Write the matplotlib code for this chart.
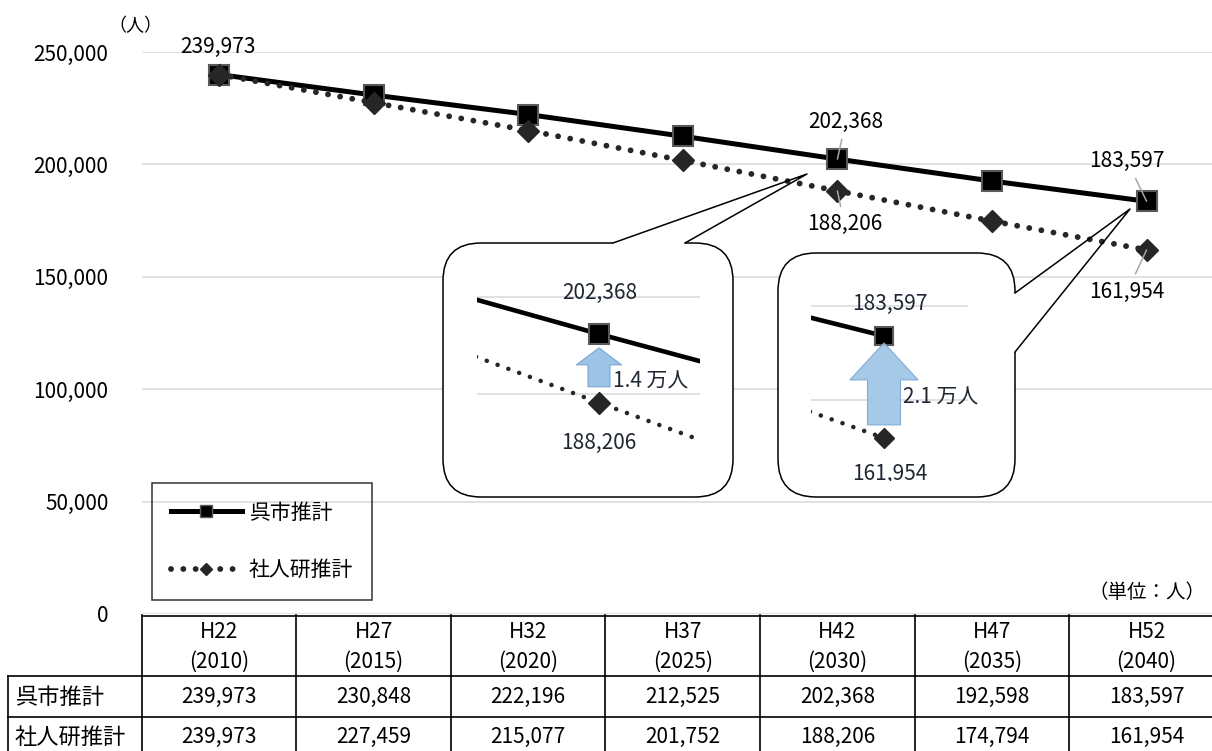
import matplotlib
matplotlib.use('Agg')
import matplotlib.pyplot as plt
from matplotlib.patches import FancyBboxPatch
from matplotlib.lines import Line2D
from matplotlib.transforms import Affine2D
from matplotlib.ticker import FuncFormatter

plt.rcParams['font.family'] = ['Noto Sans CJK JP', 'DejaVu Sans']

# data
eras = ['H22', 'H27', 'H32', 'H37', 'H42', 'H47', 'H52']
years = [2010, 2015, 2020, 2025, 2030, 2035, 2040]
kure = [239973, 230848, 222196, 212525, 202368, 192598, 183597]
ipss = [239973, 227459, 215077, 201752, 188206, 174794, 161954]
names = ['呉市推計', '社人研推計']
yticks = [0, 50000, 100000, 150000, 200000, 250000]
gap_labels = ['1.4 万人', '2.1 万人']

W, H = 1212, 751
fig = plt.figure(figsize=(W / 100, H / 100), dpi=100)
# pixel coords (origin top-left) -> figure
px = Affine2D().scale(1 / W, -1 / H).translate(0, 1) + fig.transFigure


def rect(x0, y0, x1, y1):
    return [x0 / W, 1 - y1 / H, (x1 - x0) / W, (y1 - y0) / H]


def fmt(v):
    return f'{v:,.0f}'


x = list(range(len(eras)))
step = 154.6
left = 141.7
ax = fig.add_axes(rect(left, 52, left + 7 * step, 614))

solid = dict(color='black', lw=3.6, marker='s', ms=14.5, mfc='black', mec='#595959', mew=1.5)
dotted = dict(color='#262626', lw=4.2, ls=(0, (0.01, 2.1)), dash_capstyle='round',
              marker='D', ms=11, mfc='#262626', mec='#262626')
ax.plot(x, kure, label=names[0], zorder=3, **solid)
ax.plot(x, ipss, label=names[1], zorder=4, **dotted)

ax.set_xlim(-0.5, 6.5)
ax.set_ylim(0, 250000)
ax.set_yticks(yticks)
ax.yaxis.set_major_formatter(FuncFormatter(lambda v, p: fmt(v)))
ax.set_xticks([])
ax.tick_params(axis='y', length=0, pad=24, labelsize=15)
ax.grid(axis='y', color='#D9D9D9', lw=1.1)
ax.set_axisbelow(True)
for s in ax.spines.values():
    s.set_visible(False)

leg = ax.legend(loc='upper left', bbox_to_anchor=(152 / W, 1 - 483 / H),
                bbox_transform=fig.transFigure, borderaxespad=0, fancybox=False,
                edgecolor='black', facecolor='none', fontsize=15, handlelength=3.4,
                handletextpad=0.35, labelspacing=1.7, borderpad=0.9, numpoints=1)
leg.get_frame().set_linewidth(1.1)
for h in leg.legend_handles:
    h.set_markersize(h.get_markersize() * 0.6)
    h.set_markeredgewidth(1.0)

# data labels
lead = dict(arrowstyle='-', color='#A6A6A6', lw=1.1, shrinkA=3, shrinkB=0)
ax.annotate(fmt(kure[0]), (0, kure[0]), xytext=(-1, 20), textcoords='offset points',
            ha='center', va='center', fontsize=15)
ax.annotate(fmt(kure[4]), (4, kure[4]), xytext=(6, 27), textcoords='offset points',
            ha='center', va='center', fontsize=15, arrowprops=lead, zorder=6)
ax.annotate(fmt(ipss[4]), (4, ipss[4]), xytext=(5, -24), textcoords='offset points',
            ha='center', va='center', fontsize=15, arrowprops=lead, zorder=6)
ax.annotate(fmt(kure[6]), (6, kure[6]), xytext=(-14, 29), textcoords='offset points',
            ha='center', va='center', fontsize=15, arrowprops=lead, zorder=6)
ax.annotate(fmt(ipss[6]), (6, ipss[6]), xytext=(-14, -30), textcoords='offset points',
            ha='center', va='center', fontsize=15, arrowprops=lead, zorder=6)

fig.text(135 / W, 1 - 26 / H, '（人）', ha='center', va='center', fontsize=13)
fig.text(1206 / W, 1 - 593 / H, '（単位：人）', ha='right', va='center', fontsize=14)

# table
tb = fig.add_axes(rect(left, 615, left + 7 * step, 751))
tb.set_xlim(-0.5, 6.5)
tb.set_ylim(751, 615)
tb.axis('off')
xl = (8 - left) / step - 0.5
tl = dict(color='black', lw=1.2, clip_on=False)
tb.plot([-0.5, 6.5], [615.5, 615.5], **tl)
for yy in (676, 717):
    tb.plot([xl, 6.5], [yy, yy], **tl)
for i in range(8):
    tb.plot([i - 0.5, i - 0.5], [615, 751], **tl)
tb.plot([xl, xl], [676, 751], **tl)
for i in x:
    tb.text(i, 632, eras[i], ha='center', va='center', fontsize=15)
    tb.text(i, 662, f'({years[i]})', ha='center', va='center', fontsize=15)
    tb.text(i, 697, fmt(kure[i]), ha='center', va='center', fontsize=15)
    tb.text(i, 737, fmt(ipss[i]), ha='center', va='center', fontsize=15)
for yy, nm in zip((697, 737), names):
    tb.text(xl + 7 / step, yy, nm, ha='left', va='center', fontsize=16, clip_on=False)

# callout boxes
box_kw = dict(boxstyle='round,pad=0,rounding_size=38', fc='white', ec='black', lw=1.1,
              transform=px, zorder=5)
fig.add_artist(FancyBboxPatch((443, 243), 290, 254, **box_kw))
fig.add_artist(FancyBboxPatch((778, 253), 237, 244, **box_kw))
fig.add_artist(Line2D([615, 683], [243, 243], color='white', lw=3, transform=px, zorder=6))
fig.add_artist(Line2D([1015, 1015], [295, 350], color='white', lw=3, transform=px, zorder=6))
fig.add_artist(Line2D([613, 807, 685], [243, 174, 243], color='black', lw=1.1,
                      transform=px, zorder=6))
fig.add_artist(Line2D([1015, 1130, 1015], [293, 209, 352], color='black', lw=1.1,
                      transform=px, zorder=6))

navy = '#1f2733'


def inset(r, i, k, top_px, bot_px, pt_px, xl0, xr0, grid, ms_s, ms_d, lw):
    a = fig.add_axes(rect(*r))
    a.set_zorder(7)
    a.set_facecolor('none')
    a.plot(x, kure, **{**solid, 'lw': lw, 'ms': ms_s}, zorder=3)
    a.plot(x, ipss, **{**dotted, 'lw': lw, 'ms': ms_d, 'ls': (0, (0.01, 2.5))}, zorder=4)
    a.set_xlim(i - xl0, i + xr0)
    a.set_ylim(kure[i] - (bot_px - pt_px) * k, kure[i] + (pt_px - top_px) * k)
    a.set_yticks(grid)
    a.set_xticks([])
    a.tick_params(length=0, labelleft=False)
    a.grid(axis='y', color='#D9D9D9', lw=1.1)
    a.set_axisbelow(True)
    for s in a.spines.values():
        s.set_visible(False)
    return a


in1 = inset((477, 270, 700, 470), 4, 206.2, 270, 470, 334, 122 / 176, 101 / 176,
            [190000, 210000], 14.5, 11, 3.3)
in1.annotate(fmt(kure[4]), (4, kure[4]), xytext=(0.5, 29.5), textcoords='offset points',
             ha='center', va='center', fontsize=15, color=navy)
in1.annotate(fmt(ipss[4]), (4, ipss[4]), xytext=(-0.5, -29), textcoords='offset points',
             ha='center', va='center', fontsize=15, color=navy)
in1.annotate('', (4, kure[4]), xytext=(0, -38), textcoords='offset points',
             arrowprops=dict(arrowstyle='simple,head_length=12.2,head_width=32.4,tail_width=15.8',
                             mutation_scale=1, shrinkA=0, shrinkB=10,
                             fc='#9DC3E6', ec='#7AA6D6', lw=0.8), zorder=5)
in1.annotate(gap_labels[0], (4, kure[4]), xytext=(10, -34), textcoords='offset points',
             ha='left', va='center', fontsize=15, color=navy)

in2 = inset((811, 280, 968, 481), 6, 212.2, 280, 481, 336, 73 / 170, 84 / 170,
            [170000, 190000], 12.5, 10, 3.3)
in2.annotate(fmt(kure[6]), (6, kure[6]), xytext=(4.3, 23), textcoords='offset points',
             ha='center', va='center', fontsize=15, color=navy)
t = in2.annotate(fmt(ipss[6]), (6, ipss[6]), xytext=(4.3, -26), textcoords='offset points',
                 ha='center', va='center', fontsize=15, color=navy, clip_on=True)
t.set_clip_path(in2.patch)
in2.annotate('', (6, kure[6]), xytext=(0, -64), textcoords='offset points',
             arrowprops=dict(arrowstyle='simple,head_length=26.6,head_width=49,tail_width=23.8',
                             mutation_scale=1, shrinkA=0, shrinkB=5,
                             fc='#9DC3E6', ec='#7AA6D6', lw=0.8, alpha=0.9), zorder=5)
in2.annotate(gap_labels[1], (6, kure[6]), xytext=(13.7, -44), textcoords='offset points',
             ha='left', va='center', fontsize=15, color=navy)

fig.savefig('out.png', dpi=100)
